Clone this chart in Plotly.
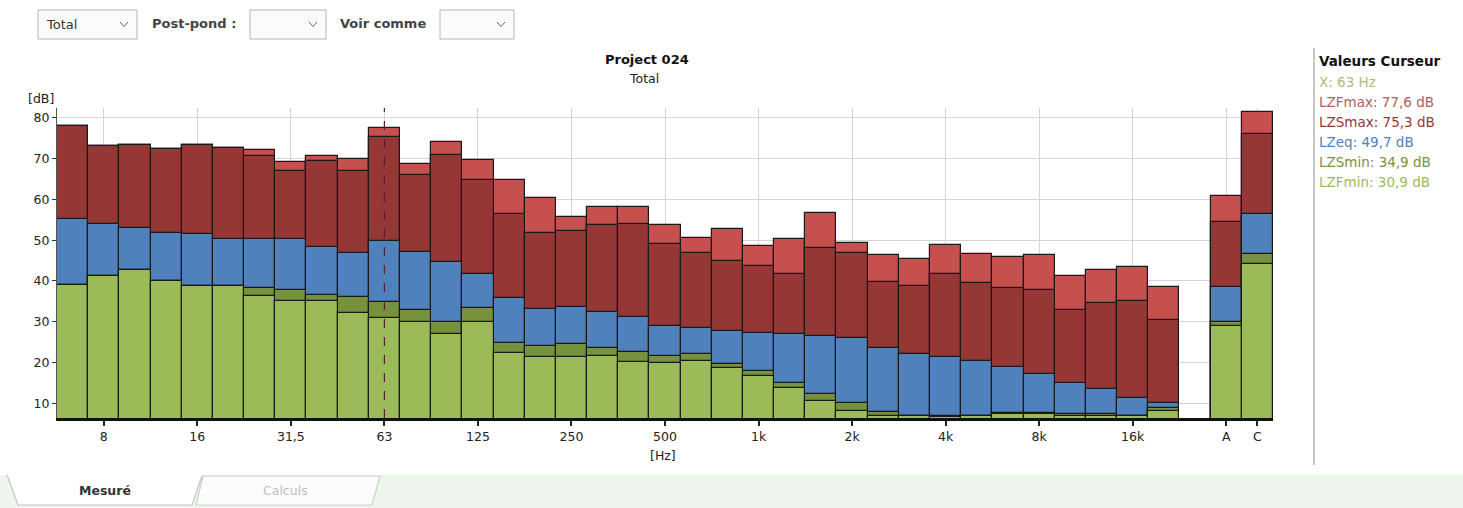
import plotly.graph_objects as go

# ---------------- data ----------------
bands = ['6,3', '8', '10', '12,5', '16', '20', '25', '31,5', '40', '50', '63', '80', '100', '125',
         '160', '200', '250', '315', '400', '500', '630', '800', '1k', '1,25k', '1,6k', '2k', '2,5k',
         '3,15k', '4k', '5k', '6,3k', '8k', '10k', '12,5k', '16k', '20k']
weighted = ['A', 'C']

LZFmax = [77.9, 73.1, 73.3, 72.3, 73.3, 72.6, 72.1, 69.1, 70.6, 69.9, 77.6, 68.6, 74.0, 69.6, 64.7,
          60.4, 55.7, 58.2, 58.2, 53.7, 50.6, 52.7, 48.6, 50.2, 56.7, 49.2, 46.3, 45.4, 48.8, 46.6,
          45.9, 46.3, 41.3, 42.8, 43.5, 38.6]
LZSmax = [77.9, 73.1, 73.3, 72.3, 73.3, 72.6, 70.6, 66.9, 69.4, 66.9, 75.3, 66.0, 70.9, 64.7, 56.4,
          51.8, 52.2, 53.7, 53.9, 49.0, 46.9, 45.0, 43.7, 41.7, 48.0, 46.8, 39.8, 38.8, 41.7, 39.6,
          38.3, 37.8, 32.9, 34.5, 35.1, 30.4]
LZeq = [55.1, 53.9, 53.0, 51.7, 51.4, 50.4, 50.4, 50.4, 48.4, 46.9, 49.7, 47.2, 44.7, 41.7, 35.7,
        33.1, 33.7, 32.4, 31.2, 29.0, 28.4, 27.8, 27.2, 26.9, 26.5, 25.9, 23.6, 22.0, 21.4, 20.4,
        19.0, 17.1, 15.1, 13.4, 11.2, 10.0]
LZSmin = [39.1, 41.2, 42.7, 40.0, 38.7, 38.7, 38.3, 37.8, 36.5, 36.1, 34.9, 32.9, 30.0, 33.3, 24.9,
          24.1, 24.5, 23.6, 22.7, 21.7, 22.0, 19.6, 17.9, 14.9, 12.2, 10.0, 7.9, 7.0, 7.0, 7.0,
          7.7, 7.7, 7.4, 7.3, 7.0, 8.8]
LZFmin = [39.1, 41.2, 42.7, 40.0, 38.7, 38.7, 36.4, 35.1, 35.1, 32.2, 30.9, 30.0, 27.0, 30.0, 22.3,
          21.4, 21.4, 21.7, 20.2, 19.8, 20.4, 18.6, 16.8, 13.7, 10.6, 8.1, 6.9, 6.8, 6.7, 6.8,
          7.3, 7.3, 7.0, 7.0, 6.8, 8.2]

# A / C weighted totals
W_LZFmax = [60.8, 81.3]
W_LZSmax = [54.5, 76.0]
W_LZeq = [38.6, 56.4]
W_LZSmin = [30.0, 46.6]
W_LZFmin = [29.0, 44.1]

tick_labels = ['8', '16', '31,5', '63', '125', '250', '500', '1k', '2k', '4k', '8k', '16k', 'A', 'C']
cursor_band = '63'

# ---------------- figure ----------------
categories = bands + weighted
positions = list(range(len(bands))) + [len(bands) + 1 + i for i in range(len(weighted))]

series = [
    ('LZFmax', LZFmax + W_LZFmax, '#C5504E'),
    ('LZSmax', LZSmax + W_LZSmax, '#953735'),
    ('LZeq', LZeq + W_LZeq, '#4F81BD'),
    ('LZSmin', LZSmin + W_LZSmin, '#76923C'),
    ('LZFmin', LZFmin + W_LZFmin, '#9BBB59'),
]
text_colors = {'LZFmax': '#B0605E', 'LZSmax': '#953735', 'LZeq': '#4F81BD',
               'LZSmin': '#76923C', 'LZFmin': '#9BBB59'}

Y0, Y1 = 6.4, 82.4
fig = go.Figure()
for name, vals, col in series:
    fig.add_trace(go.Bar(x=positions, y=vals, name=name, width=1.0,
                         marker=dict(color=col, line=dict(color='#1a1a1a', width=1.2)),
                         showlegend=False, hoverinfo='skip'))

ci = categories.index(cursor_band)
cx = positions[ci]
fig.add_trace(go.Scatter(x=[cx, cx], y=[Y0, Y1], mode='lines',
                         line=dict(color='#5a1c30', width=1.2, dash='dash'),
                         showlegend=False, hoverinfo='skip'))

tickvals = [positions[categories.index(t)] for t in tick_labels]

FONT = 'DejaVu Sans'
fig.update_layout(
    width=1463, height=508, autosize=False,
    margin=dict(l=57, r=190, t=108, b=90, pad=0),
    paper_bgcolor='white', plot_bgcolor='white',
    barmode='overlay', bargap=0,
    font=dict(family=FONT, size=12, color='#222'),
    xaxis=dict(range=[-0.5, positions[-1] + 0.5], tickmode='array', tickvals=tickvals,
               ticktext=tick_labels, showgrid=True, gridcolor='#d4d4d4', gridwidth=1,
               ticks='outside', ticklen=5, tickcolor='#222', tickwidth=1.5,
               showline=True, linecolor='#111', linewidth=2.5, zeroline=False,
               tickfont=dict(family=FONT, size=12.5, color='#222')),
    yaxis=dict(range=[Y0, Y1], tickmode='array', tickvals=list(range(10, 90, 10)),
               showgrid=True, gridcolor='#d4d4d4', gridwidth=1,
               ticks='outside', ticklen=4, tickcolor='#333',
               showline=True, linecolor='#555', linewidth=1, zeroline=False,
               tickfont=dict(family=FONT, size=12.5, color='#222')),
)

# pixel -> paper helpers
L, R, T, B = 57, 1463 - 190, 108, 508 - 90
def px(x):
    return (x - L) / (R - L)
def py(y):
    return (B - y) / (B - T)

ann = []
def text(x, y, s, size=12, color='#222', bold=False, xanchor='center'):
    ann.append(dict(x=px(x), y=py(y), xref='paper', yref='paper', text=('<b>%s</b>' % s) if bold else s,
                    showarrow=False, xanchor=xanchor, yanchor='middle',
                    font=dict(family=FONT, size=size, color=color)))

text(647, 59, 'Project 024', size=13, color='#111', bold=True)
text(644, 78, 'Total', size=12.5, color='#222')
text(41, 98, '[dB]', size=12.5, color='#222')
text(663, 455, '[Hz]', size=12.5, color='#222')

# right panel: cursor values
text(1317, 61, 'Valeurs Curseur', size=13.5, color='#111', bold=True, xanchor='left')
text(1317, 82, 'X: %s Hz' % cursor_band, size=13.5, color='#A9BF7A', xanchor='left')
for k, (name, vals, col) in enumerate(series):
    text(1317, 102 + 20 * k, '%s: %s dB' % (name, ('%.1f' % vals[ci]).replace('.', ',')),
         size=13.5, color=text_colors[name], xanchor='left')

# top controls
text(150, 24, 'Post-pond :', size=13, color='#444', bold=True, xanchor='left')
text(338, 24, 'Voir comme', size=13, color='#444', bold=True, xanchor='left')
text(44, 25, 'Total', size=13, color='#333', xanchor='left')

shapes = []
def rect(x0, y0, x1, y1, fill, line, lw=1):
    shapes.append(dict(type='rect', xref='paper', yref='paper', x0=px(x0), x1=px(x1), y0=py(y1), y1=py(y0),
                       fillcolor=fill, line=dict(color=line, width=lw), layer='above'))
def path(pts, fill=None, line='#999', lw=1, close=False):
    d = 'M ' + ' L '.join('%f,%f' % (px(a), py(b)) for a, b in pts) + (' Z' if close else '')
    shapes.append(dict(type='path', xref='paper', yref='paper', path=d,
                       fillcolor=fill if fill else 'rgba(0,0,0,0)',
                       line=dict(color=line, width=lw), layer='above'))

for (x0, x1) in [(38, 137), (250, 326), (440, 514)]:
    rect(x0, 10, x1, 39, '#fbfbfb', '#b4b4b4', 1)
    cxv = x1 - 13
    path([(cxv - 4, 22), (cxv, 26.5), (cxv + 4, 22)], line='#666', lw=1)

# right separator
path([(1314, 48), (1314, 465)], line='#c8c8c8', lw=2)

# bottom tabs
rect(0, 475, 1463, 508, '#eef5ec', 'rgba(0,0,0,0)', 0)
path([(203, 476), (380, 476), (372, 505), (196, 505)], fill='#fcfcfc', line='#cfcfcf', lw=1.2, close=True)
path([(0, 475), (7, 475), (202, 475), (192, 505), (18, 505), (7, 475)], fill='#ffffff', line='rgba(0,0,0,0)', lw=0, close=True)
path([(7, 475), (18, 505), (192, 505), (202, 476)], line='#c4c4c4', lw=1.2)
text(105, 491, 'Mesuré', size=12.5, color='#333', bold=True)
text(285, 491, 'Calculs', size=12.5, color='#bdbdbd')

fig.update_layout(annotations=ann, shapes=shapes)
fig.write_html('out.html')
